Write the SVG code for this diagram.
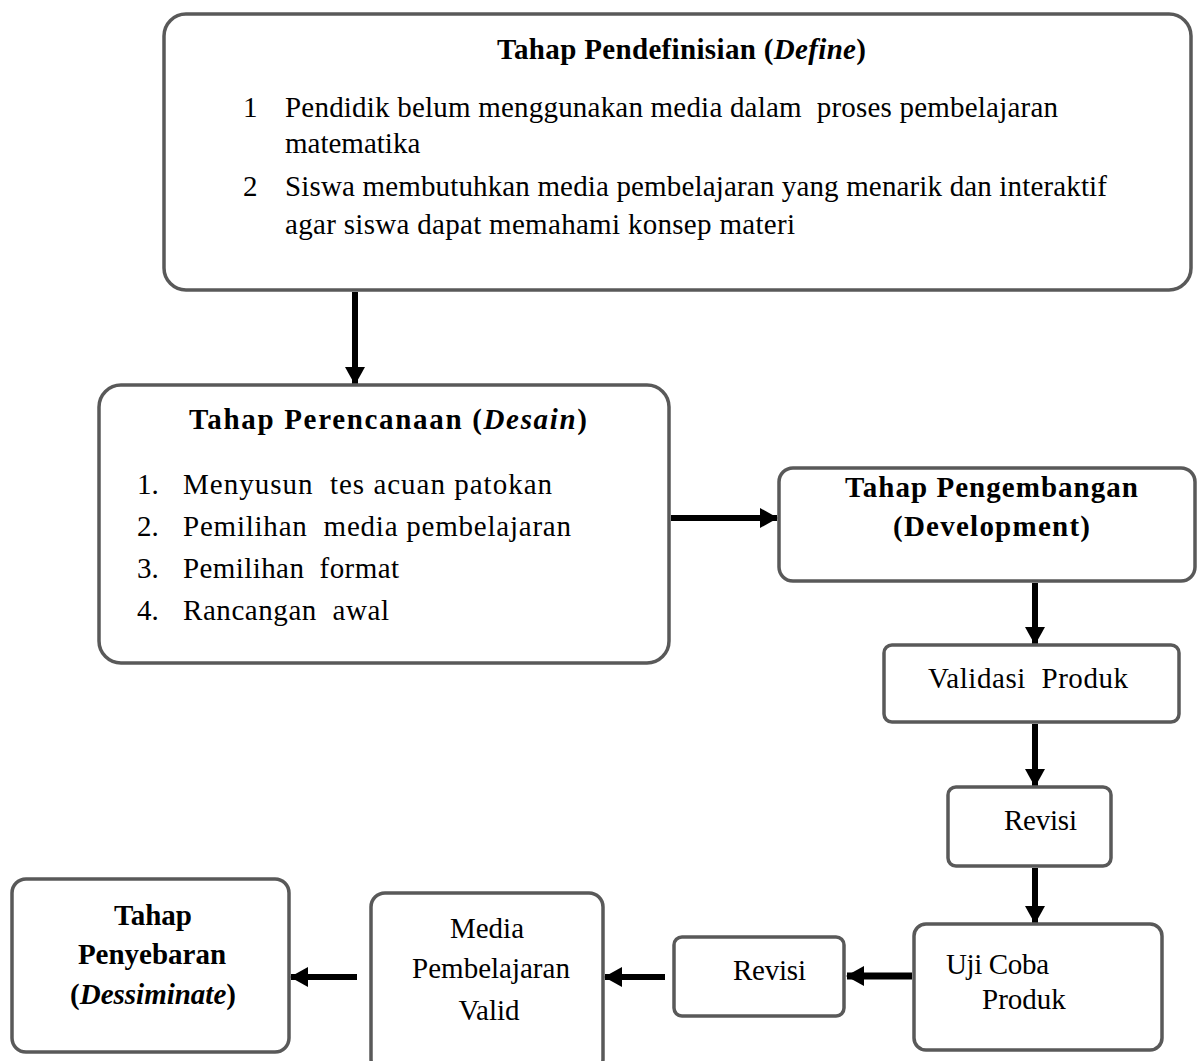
<svg xmlns="http://www.w3.org/2000/svg" width="1199" height="1061" viewBox="0 0 1199 1061">
<defs>
<style>
.box{fill:#fff;stroke:#595959;stroke-width:3.5}
.t{font-family:"Liberation Serif","Times New Roman",serif;font-size:29px;fill:#000}
.b{font-weight:bold}
.c{text-anchor:middle}
.arr{stroke:#000;stroke-width:6;fill:none;marker-end:url(#ah)}
</style>
<marker id="ah" markerUnits="userSpaceOnUse" markerWidth="18" markerHeight="20" viewBox="0 0 18 20" refX="17" refY="10" orient="auto">
<polygon points="0,0 18,10 0,20" fill="#000"/>
</marker>
</defs>
<rect width="1199" height="1061" fill="#fff"/>
<g id="connectors">
<line class="arr" x1="355" y1="292" x2="355" y2="384"/>
<line class="arr" x1="671" y1="518" x2="777" y2="518"/>
<line class="arr" x1="1035" y1="583" x2="1035" y2="644"/>
<line class="arr" x1="1035" y1="724" x2="1035" y2="786"/>
<line class="arr" x1="1035" y1="868" x2="1035" y2="923"/>
<line class="arr" x1="912" y1="976" x2="847" y2="976" style="stroke-width:7"/>
<line class="arr" x1="665" y1="977" x2="605" y2="977"/>
<line class="arr" x1="357" y1="977" x2="291" y2="977"/>
</g>
<g id="define">
<rect class="box" x="164" y="14" width="1027" height="276" rx="22"/>
<text class="t b" x="497" y="59" textLength="369">Tahap Pendefinisian (<tspan font-style="italic">Define</tspan>)</text>
<text class="t" x="243" y="117">1</text>
<text class="t" x="285" y="117" textLength="773" xml:space="preserve">Pendidik belum menggunakan media dalam  proses pembelajaran</text>
<text class="t" x="285" y="153">matematika</text>
<text class="t" x="243" y="196">2</text>
<text class="t" x="285" y="196" textLength="822">Siswa membutuhkan media pembelajaran yang menarik dan interaktif</text>
<text class="t" x="285" y="234" textLength="510">agar siswa dapat memahami konsep materi</text>
</g>
<g id="desain">
<rect class="box" x="99" y="385" width="570" height="278" rx="22"/>
<text class="t b" x="189" y="429" textLength="398">Tahap Perencanaan (<tspan font-style="italic">Desain</tspan>)</text>
<text class="t" x="137" y="494">1.</text>
<text class="t" x="183" y="494" textLength="369" xml:space="preserve">Menyusun  tes acuan patokan</text>
<text class="t" x="137" y="536">2.</text>
<text class="t" x="183" y="536" textLength="388" xml:space="preserve">Pemilihan  media pembelajaran</text>
<text class="t" x="137" y="578">3.</text>
<text class="t" x="183" y="578" textLength="216" xml:space="preserve">Pemilihan  format</text>
<text class="t" x="137" y="620">4.</text>
<text class="t" x="183" y="620" textLength="206" xml:space="preserve">Rancangan  awal</text>
</g>
<g id="development">
<rect class="box" x="779" y="468" width="416" height="113" rx="14"/>
<text class="t b" x="845" y="497" textLength="293">Tahap Pengembangan</text>
<text class="t b" x="893" y="536" textLength="197">(Development)</text>
</g>
<g id="validasi">
<rect class="box" x="884" y="645" width="295" height="77" rx="8"/>
<text class="t" x="928" y="688" textLength="200" xml:space="preserve">Validasi  Produk</text>
</g>
<g id="revisi1">
<rect class="box" x="948" y="787" width="163" height="79" rx="8"/>
<text class="t" x="1004" y="830" textLength="73">Revisi</text>
</g>
<g id="ujicoba">
<rect class="box" x="914" y="924" width="248" height="126" rx="12"/>
<text class="t" x="946" y="974" textLength="103">Uji Coba</text>
<text class="t" x="982" y="1009">Produk</text>
</g>
<g id="revisi2">
<rect class="box" x="674" y="937" width="170" height="79" rx="8"/>
<text class="t" x="733" y="980" textLength="73">Revisi</text>
</g>
<g id="media">
<rect class="box" x="371" y="893" width="232" height="180" rx="14"/>
<text class="t c" x="487" y="938">Media</text>
<text class="t c" x="491" y="978">Pembelajaran</text>
<text class="t c" x="489" y="1020">Valid</text>
</g>
<g id="penyebaran">
<rect class="box" x="12" y="879" width="277" height="173" rx="14"/>
<text class="t b c" x="153" y="925">Tahap</text>
<text class="t b c" x="152" y="964">Penyebaran</text>
<text class="t b c" x="153" y="1004">(<tspan font-style="italic">Dessiminate</tspan>)</text>
</g>
</svg>
